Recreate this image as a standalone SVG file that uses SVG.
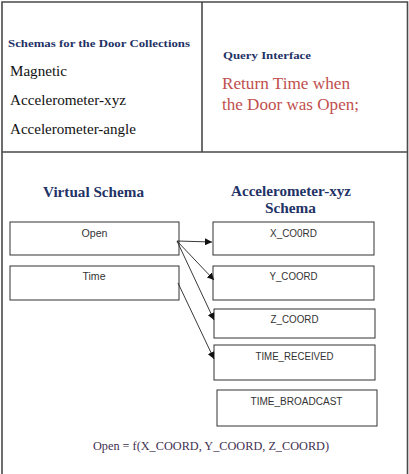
<svg xmlns="http://www.w3.org/2000/svg" width="409" height="474" viewBox="0 0 409 474">
<style>
.frame{fill:none;stroke:#4a4a4a;stroke-width:1.6}
.box{fill:#fff;stroke:#333;stroke-width:1}
.lbl{font-family:"Liberation Sans",Arial,sans-serif;font-size:10px;fill:#333;text-anchor:middle}
.hd{font-family:"Liberation Serif","Times New Roman",serif;font-weight:bold;fill:#1f3366}
.item{font-family:"Liberation Serif","Times New Roman",serif;font-size:14.5px;fill:#111}
.query{font-family:"Liberation Serif","Times New Roman",serif;font-size:16.5px;fill:#c0504d}
.conn{stroke:#222;stroke-width:0.9;fill:none;marker-end:url(#ah)}
</style>
<defs>
<marker id="ah" viewBox="0 0 10 10" refX="10" refY="5" markerWidth="7" markerHeight="7" markerUnits="userSpaceOnUse" orient="auto">
<path d="M0,0 L10,5 L0,10 z" fill="#111"/>
</marker>
</defs>
<rect width="409" height="474" fill="#fff"/>
<g id="frame">
<path class="frame" d="M2,474 V2 H407.5 V474 M2,152 H407.5 M202,2 V152"/>
</g>
<g id="schemas-panel">
<text class="hd" x="8" y="47" font-size="10.5" textLength="182" lengthAdjust="spacingAndGlyphs">Schemas for the Door Collections</text>
<text class="item" x="10" y="76" textLength="57" lengthAdjust="spacingAndGlyphs">Magnetic</text>
<text class="item" x="10" y="105" textLength="116" lengthAdjust="spacingAndGlyphs">Accelerometer-xyz</text>
<text class="item" x="10" y="134" textLength="126" lengthAdjust="spacingAndGlyphs">Accelerometer-angle</text>
</g>
<g id="query-panel">
<text class="hd" x="223" y="59" font-size="10.5" textLength="88" lengthAdjust="spacingAndGlyphs">Query Interface</text>
<text class="query" x="222" y="89" textLength="128" lengthAdjust="spacingAndGlyphs">Return Time when</text>
<text class="query" x="222" y="110" textLength="137" lengthAdjust="spacingAndGlyphs">the Door was Open;</text>
</g>
<g id="virtual-schema-title">
<text class="hd" x="43" y="197" font-size="14" textLength="101" lengthAdjust="spacingAndGlyphs">Virtual Schema</text>
</g>
<g id="accel-schema-title">
<text class="hd" x="231" y="196" font-size="14" textLength="120" lengthAdjust="spacingAndGlyphs">Accelerometer-xyz</text>
<text class="hd" x="265" y="213" font-size="14" textLength="51" lengthAdjust="spacingAndGlyphs">Schema</text>
</g>
<g id="open">
<rect class="box" x="10" y="222" width="169" height="33"/>
<text class="lbl" x="94.5" y="237" textLength="26" lengthAdjust="spacingAndGlyphs">Open</text>
</g>
<g id="time">
<rect class="box" x="10" y="266" width="169" height="34"/>
<text class="lbl" x="94" y="280" textLength="23" lengthAdjust="spacingAndGlyphs">Time</text>
</g>
<g id="x-coord">
<rect class="box" x="213" y="222" width="161" height="33"/>
<text class="lbl" x="293.5" y="237" textLength="47" lengthAdjust="spacingAndGlyphs">X_CO0RD</text>
</g>
<g id="y-coord">
<rect class="box" x="213" y="266" width="161" height="34"/>
<text class="lbl" x="293.5" y="280" textLength="48" lengthAdjust="spacingAndGlyphs">Y_COORD</text>
</g>
<g id="z-coord">
<rect class="box" x="214" y="309" width="161" height="29"/>
<text class="lbl" x="294.5" y="323" textLength="48" lengthAdjust="spacingAndGlyphs">Z_COORD</text>
</g>
<g id="time-received">
<rect class="box" x="214" y="345" width="161" height="35"/>
<text class="lbl" x="294.5" y="360" textLength="78" lengthAdjust="spacingAndGlyphs">TIME_RECEIVED</text>
</g>
<g id="time-broadcast">
<rect class="box" x="217" y="390" width="160" height="36"/>
<text class="lbl" x="296.5" y="405" textLength="92" lengthAdjust="spacingAndGlyphs">TIME_BROADCAST</text>
</g>
<g id="connectors">
<line class="conn" x1="177" y1="241" x2="212" y2="242"/>
<line class="conn" x1="177" y1="241" x2="214" y2="280"/>
<line class="conn" x1="177" y1="241" x2="214" y2="320"/>
<line class="conn" x1="178" y1="283" x2="214" y2="359"/>
</g>
<g id="equation">
<text x="93" y="450" font-family="Liberation Serif,'Times New Roman',serif" font-size="11.5" fill="#3f3151" textLength="236" lengthAdjust="spacingAndGlyphs">Open = f(X_COORD, Y_COORD, Z_COORD)</text>
</g>
</svg>
